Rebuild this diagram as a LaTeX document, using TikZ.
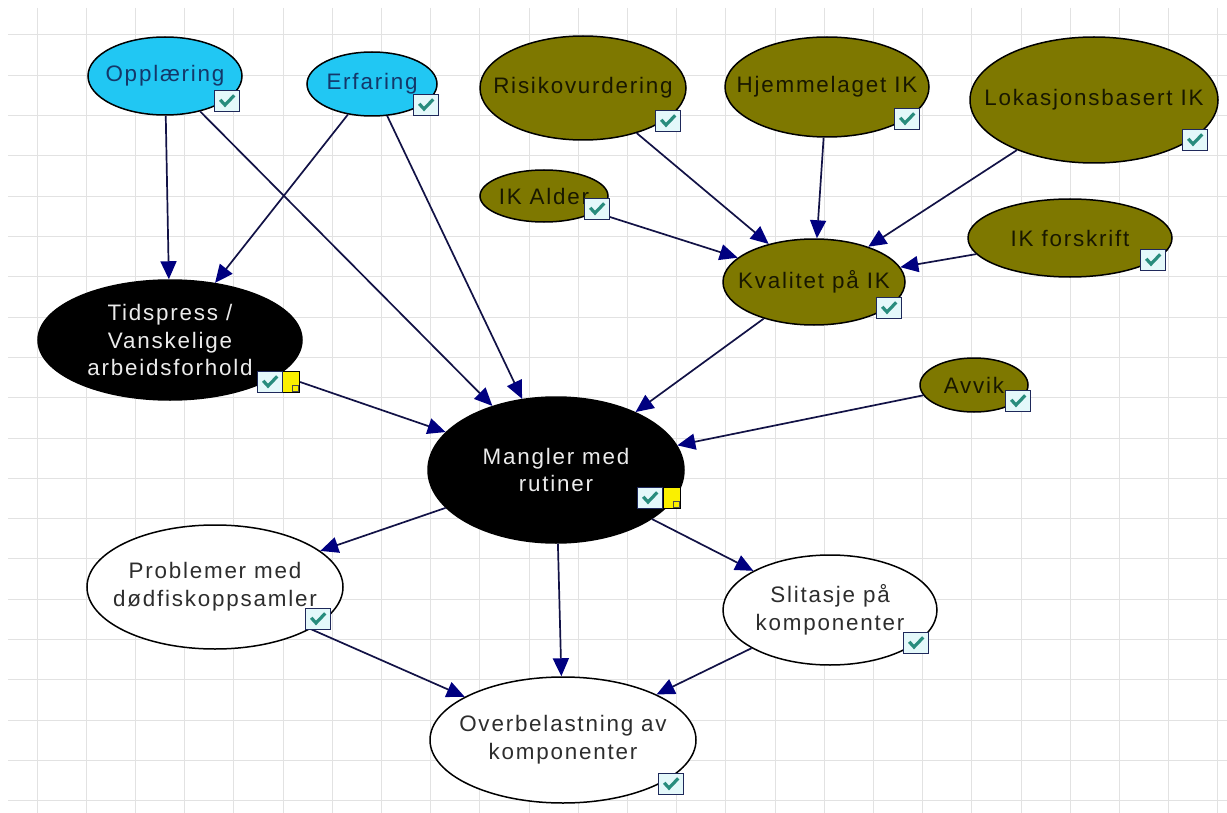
\documentclass[tikz,border=0pt]{standalone}
\usepackage{fontspec}
\setmainfont{Liberation Sans}[LetterSpace=8]
\usetikzlibrary{shapes.geometric, arrows.meta}

\definecolor{skyfill}{RGB}{33,199,243}
\definecolor{olivefill}{RGB}{126,120,0}
\definecolor{edgeline}{RGB}{18,18,70}
\definecolor{headfill}{RGB}{0,0,128}
\definecolor{gridline}{RGB}{226,226,226}
\definecolor{cbfill}{RGB}{228,248,250}
\definecolor{cbedge}{RGB}{30,40,90}
\definecolor{cbtick}{RGB}{40,140,125}
\definecolor{notefill}{RGB}{250,240,0}
\definecolor{skytext}{RGB}{20,55,105}
\definecolor{olivetext}{RGB}{25,24,0}
\definecolor{darktext}{RGB}{235,235,235}
\definecolor{plaintext}{RGB}{45,45,45}

% belief node: ellipse with its label laid on top
\newcommand\bnode[6]{%
  \node[#2, minimum width=#4*0.5pt, minimum height=#5*0.5pt] (#1) at (#3) {};
  \node[#2 text] (#1-t) at (#1) {#6};
}

\begin{document}
\begin{tikzpicture}[x=0.5pt, y=-0.5pt,
  gridln/.style={draw=gridline, line width=0.5pt},
  base/.style={ellipse, draw=black, line width=0.75pt, inner sep=0pt},
  sky/.style={base, fill=skyfill},
  olive/.style={base, fill=olivefill},
  dark/.style={base, fill=black},
  plain/.style={base, fill=white},
  lbl/.style={font=\fontsize{11.2pt}{13.8pt}\selectfont, align=center, inner sep=0pt},
  sky text/.style={lbl, text=skytext},
  olive text/.style={lbl, text=olivetext},
  dark text/.style={lbl, text=darktext},
  plain text/.style={lbl, text=plaintext},
  link/.style={draw=edgeline, line width=0.85pt,
    -{Triangle[length=9pt, width=8pt, color=headfill]}},
  chk/.style={draw=cbedge, fill=cbfill, line width=0.8pt,
    minimum width=12.5pt, minimum height=10.5pt, inner sep=0pt,
    path picture={\draw[cbtick, line width=1.6pt]
      ([shift={(-3.4pt,0.6pt)}]path picture bounding box.center)
      -- ++(2.4pt,-2.6pt) -- ++(4.6pt,4.8pt);}},
  note/.style={draw=black, fill=notefill, line width=0.6pt,
    minimum width=8.5pt, minimum height=10.5pt, inner sep=0pt,
    path picture={\draw[fill=notefill, draw=black!70, line width=0.4pt]
      ([shift={(0.6pt,-4.6pt)}]path picture bounding box.center)
      rectangle ++(3.2pt,3pt);}}
]
\useasboundingbox (0,0) rectangle (1227,813);
\fill[white] (0,0) rectangle (1227,813);

% background grid
\foreach \k in {0,...,24}
  \draw[gridln] ({37+49.2*\k},8) -- ({37+49.2*\k},813);
\foreach \k in {0,...,19}
  \draw[gridln] (8,{35+40.3*\k}) -- (1227,{35+40.3*\k});

% nodes
\bnode{opp}{sky}{165,76}{154}{78}{Opplæring}
\bnode{erf}{sky}{372,84}{130}{64}{Erfaring}
\bnode{ris}{olive}{583,88}{206}{104}{Risikovurdering}
\bnode{hje}{olive}{827,87}{204}{100}{Hjemmelaget IK}
\bnode{lok}{olive}{1094,100}{248}{126}{Lokasjonsbasert IK}
\bnode{ika}{olive}{544,196}{128}{52}{IK Alder}
\bnode{ikf}{olive}{1070,238}{204}{78}{IK forskrift}
\bnode{kva}{olive}{814,282}{182}{86}{Kvalitet på IK}
\bnode{avv}{olive}{974,385}{108}{54}{Avvik}
\bnode{tid}{dark}{170,340}{264}{120}{Tidspress /\\Vanskelige\\arbeidsforhold}
\bnode{man}{dark}{556,470}{256}{146}{Mangler med\\rutiner}
\bnode{pro}{plain}{215,587}{256}{124}{Problemer med\\dødfiskoppsamler}
\bnode{sli}{plain}{830,610}{214}{110}{Slitasje på\\komponenter}
\bnode{ove}{plain}{563,740}{266}{126}{Overbelastning av\\komponenter}

% note icons
\node[note] (nt-tid) at (291,382) {};
\node[note] (nt-man) at (672,498) {};

% links
\draw[link] (opp) -- (tid);
\draw[link] (erf) -- (tid);
\draw[link] (opp) -- (man);
\draw[link] (erf) -- (man);
\draw[link] (nt-tid.east) -- (man);
\draw[link] (ris) -- (kva);
\draw[link] (hje) -- (kva);
\draw[link] (lok) -- (kva);
\draw[link] (ika) -- (kva);
\draw[link] (ikf) -- (kva);
\draw[link] (kva) -- (man);
\draw[link] (avv) -- (man);
\draw[link] (man) -- (pro);
\draw[link] (man) -- (ove);
\draw[link] (man) -- (sli);
\draw[link] (pro) -- (ove);
\draw[link] (sli) -- (ove);

% check boxes
\node[chk] (cb-opp) at (227,101) {};
\node[chk] (cb-erf) at (426,105) {};
\node[chk] (cb-ris) at (668,121) {};
\node[chk] (cb-hje) at (907,119) {};
\node[chk] (cb-ika) at (597,209) {};
\node[chk] (cb-lok) at (1195,140) {};
\node[chk] (cb-ikf) at (1153,260) {};
\node[chk] (cb-kva) at (889,308) {};
\node[chk] (cb-avv) at (1018,401) {};
\node[chk] (cb-tid) at (270,382) {};
\node[chk] (cb-man) at (650,498) {};
\node[chk] (cb-pro) at (318,619) {};
\node[chk] (cb-sli) at (916,643) {};
\node[chk] (cb-ove) at (671,784) {};
\end{tikzpicture}
\end{document}
